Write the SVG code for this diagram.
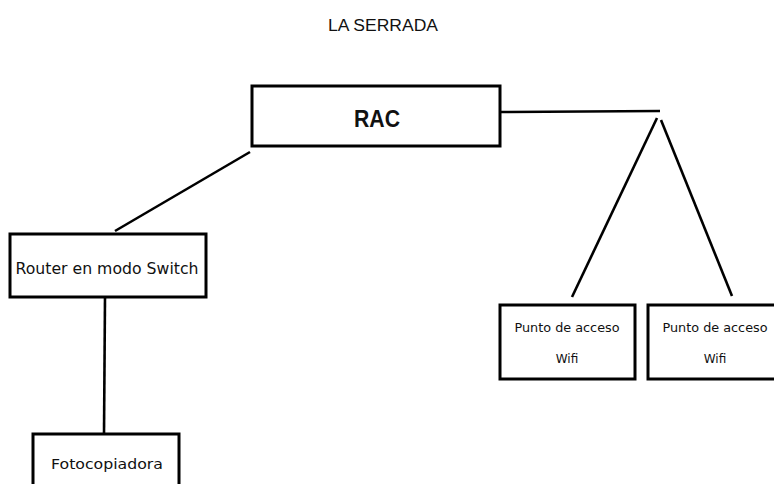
<svg xmlns="http://www.w3.org/2000/svg" width="774" height="484" viewBox="0 0 774 484">
<style>
.box{fill:#fff;stroke:#000;stroke-width:3}
.ln{stroke:#000;stroke-width:2.6;fill:none;stroke-linecap:butt}
.t{font-family:"DejaVu Sans",Verdana,sans-serif;fill:#111;text-anchor:middle}
.h{font-family:"Liberation Sans",Arial,sans-serif;fill:#111;text-anchor:middle}
</style>
<rect width="774" height="484" fill="#fff"/>
<text class="h" x="383" y="31" font-size="16" textLength="110" lengthAdjust="spacingAndGlyphs">LA SERRADA</text>
<g id="connectors">
<line class="ln" x1="250" y1="152" x2="115" y2="231"/>
<line class="ln" x1="105" y1="297" x2="104" y2="434"/>
<line class="ln" x1="500" y1="112" x2="660" y2="111"/>
<line class="ln" x1="657" y1="118" x2="572" y2="297"/>
<line class="ln" x1="661" y1="120" x2="732" y2="296"/>
</g>
<g id="rac">
<rect class="box" x="252" y="86" width="248" height="60"/>
<text class="h" x="377" y="127" font-size="24" font-weight="bold" textLength="46" lengthAdjust="spacingAndGlyphs">RAC</text>
</g>
<g id="router">
<rect class="box" x="10" y="234" width="196" height="63"/>
<text class="t" x="107" y="274" font-size="15" textLength="183" lengthAdjust="spacingAndGlyphs">Router en modo Switch</text>
</g>
<g id="fotocopiadora">
<rect class="box" x="33" y="434" width="146" height="60"/>
<text class="t" x="107" y="469" font-size="14" textLength="112" lengthAdjust="spacingAndGlyphs">Fotocopiadora</text>
</g>
<g id="wifi1">
<rect class="box" x="500" y="305" width="135" height="74"/>
<text class="t" x="567" y="332" font-size="12" textLength="105" lengthAdjust="spacingAndGlyphs">Punto de acceso</text>
<text class="t" x="567" y="363" font-size="12">Wifi</text>
</g>
<g id="wifi2">
<rect class="box" x="648" y="305" width="135" height="74"/>
<text class="t" x="715" y="332" font-size="12" textLength="105" lengthAdjust="spacingAndGlyphs">Punto de acceso</text>
<text class="t" x="715" y="363" font-size="12">Wifi</text>
</g>
</svg>
